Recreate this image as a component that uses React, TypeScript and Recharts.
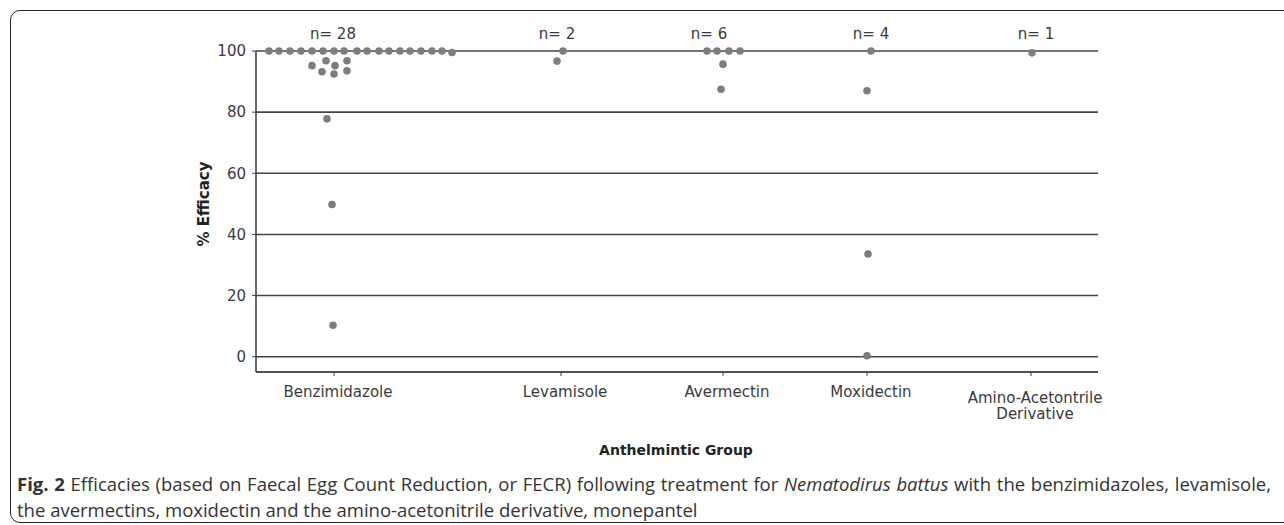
import React from 'react';
import { ScatterChart, Scatter, XAxis, YAxis, CartesianGrid, Label } from 'recharts';

// Group names and sample counts
const groupNames = ['Benzimidazole', 'Levamisole', 'Avermectin', 'Moxidectin', 'Amino-Acetontrile Derivative'];
const groupCounts = [28, 2, 6, 4, 1];
// Group position on the numeric x scale (0..842)
const groupX = [78, 305, 467, 611, 775];
// n-label position on the x scale
const nLabelX = [77, 301, 453, 615, 780];
const yTicks = [0, 20, 40, 60, 80, 100];

// Individual efficacy values (%) with their x jitter offsets
const benzOffsets = [-65, -55, -44, -33, -22, -11, 0, 10, 23, 33, 45, 55, 66, 76, 87, 98, 108, 118, -22, -8, 1, 13, -12, 0, 13, -7, -2, -1];
const benzValues = [100, 100, 100, 100, 100, 100, 100, 100, 100, 100, 100, 100, 100, 100, 100, 100, 100, 99.5, 95.2, 96.8, 95.2, 96.8, 93.2, 92.5, 93.5, 77.8, 49.8, 10.3];
const levOffsets = [2, -4];
const levValues = [100, 96.7];
const averOffsets = [-16, -6, 6, 17, 0, -2];
const averValues = [100, 100, 100, 100, 95.7, 87.5];
const moxOffsets = [4, 0, 1, 0];
const moxValues = [100, 87, 33.6, 0.3];
const aminoOffsets = [1];
const aminoValues = [99.4];

const groupOffsets = [benzOffsets, levOffsets, averOffsets, moxOffsets, aminoOffsets];
const groupValues = [benzValues, levValues, averValues, moxValues, aminoValues];

const points = groupValues.flatMap((vals, g) =>
  vals.map((v, i) => ({ x: groupX[g] + groupOffsets[g][i], y: v }))
);
const nLabels = groupCounts.map((n, g) => ({ x: nLabelX[g], y: 100, label: `n= ${n}` }));

const FONT = 'DejaVu Sans, Verdana, sans-serif';
const TEXT = '#3a3a3a';
const LINE = '#444444';

const Dot = (props: any) => {
  const { cx, cy } = props;
  if (cx == null || cy == null) return null;
  return <circle cx={cx} cy={cy} r={3.8} fill="#7d7d7d" />;
};

const NLabel = (props: any) => {
  const { cx, cy, payload } = props;
  if (cx == null || cy == null) return null;
  return (
    <text x={cx} y={cy - 12} textAnchor="middle" fontFamily={FONT} fontSize={15} fill={TEXT}>
      {payload.label}
    </text>
  );
};

const XTick = (props: any) => {
  const { x, y, payload } = props;
  const idx = groupX.indexOf(payload.value);
  const name = idx >= 0 ? groupNames[idx] : '';
  const lines = name === 'Amino-Acetontrile Derivative' ? ['Amino-Acetontrile', 'Derivative'] : [name];
  const startY = lines.length > 1 ? y + 25 : y + 19;
  return (
    <text x={x + 5} y={startY} textAnchor="middle" fontFamily={FONT} fontSize={15} fill={TEXT}>
      {lines.map((l, i) => (
        <tspan key={i} x={x + 4} dy={i === 0 ? 0 : 16}>{l}</tspan>
      ))}
    </text>
  );
};

export default function App() {
  return (
    <div style={{ position: 'absolute', left: 0, top: 0, width: 1284, height: 525, overflow: 'hidden', background: '#fff' }}>
      <div
        style={{
          position: 'absolute', left: 10, top: 10, width: 1300, height: 513,
          border: '1.5px solid #222', borderRadius: 10, boxSizing: 'border-box',
        }}
      />
      <div style={{ position: 'absolute', left: 0, top: 0 }}>
        <ScatterChart width={1284} height={525} margin={{ top: 51, right: 186, left: 0, bottom: 0 }}>
          <CartesianGrid horizontal vertical={false} stroke={LINE} strokeWidth={1.6} />
          <XAxis
            type="number"
            dataKey="x"
            domain={[0, 842]}
            ticks={groupX}
            interval={0}
            height={153}
            tick={<XTick />}
            tickSize={4}
            axisLine={{ stroke: LINE, strokeWidth: 1.6 }}
            tickLine={{ stroke: LINE }}
          >
            <Label
              content={(p: any) => {
                const vb = p.viewBox;
                return (
                  <text x={vb.x + vb.width / 2 - 1} y={vb.y + 83} textAnchor="middle" fontFamily={FONT} fontWeight="bold" fontSize={14} fill="#222">
                    Anthelmintic Group
                  </text>
                );
              }}
            />
          </XAxis>
          <YAxis
            type="number"
            dataKey="y"
            domain={[-5, 100]}
            ticks={yTicks}
            interval={0}
            width={256}
            tickSize={4}
            tickMargin={6}
            tick={{ fontFamily: FONT, fontSize: 15, fill: TEXT }}
            axisLine={{ stroke: LINE, strokeWidth: 1.6 }}
            tickLine={{ stroke: LINE }}
          >
            <Label
              content={() => (
                <text x={209} y={204} transform="rotate(-90 209 204)" textAnchor="middle" fontFamily={FONT} fontWeight="bold" fontSize={15} fill="#222">
                  % Efficacy
                </text>
              )}
            />
          </YAxis>
          <Scatter data={points} shape={<Dot />} isAnimationActive={false} />
          <Scatter data={nLabels} shape={<NLabel />} isAnimationActive={false} />
        </ScatterChart>
      </div>
      <div
        style={{
          position: 'absolute', left: 17, top: 471, width: 1254,
          fontFamily: '"Open Sans", "Noto Sans", sans-serif', fontSize: 18.5, color: '#333', lineHeight: '26px',
        }}
      >
        <div style={{ textAlign: 'justify', textAlignLast: 'justify', whiteSpace: 'nowrap' } as any}>
          <b>Fig. 2</b> Efficacies (based on Faecal Egg Count Reduction, or FECR) following treatment for <i>Nematodirus battus</i> with the benzimidazoles, levamisole,
        </div>
        <div>the avermectins, moxidectin and the amino-acetonitrile derivative, monepantel</div>
      </div>
    </div>
  );
}
